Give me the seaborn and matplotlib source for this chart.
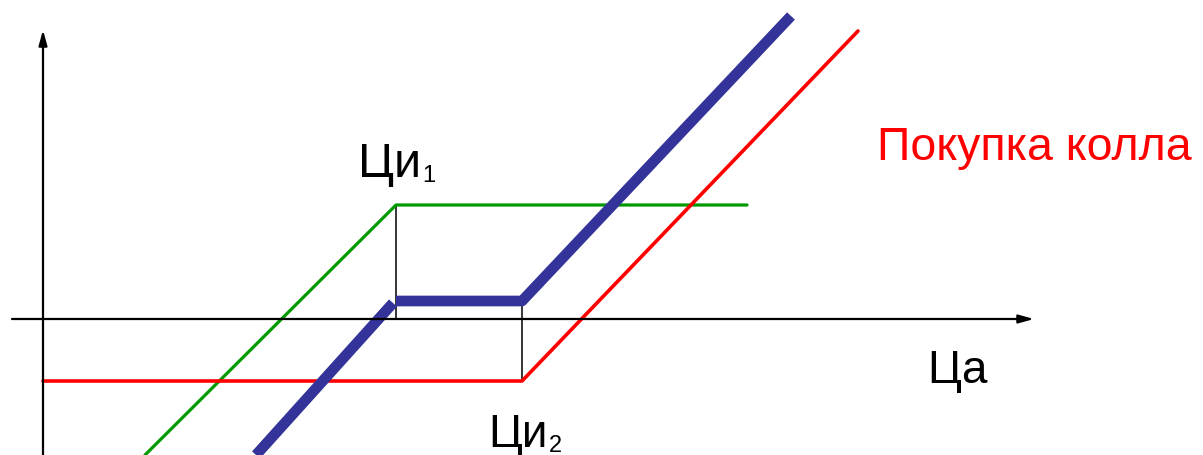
import matplotlib
matplotlib.use("Agg")
import matplotlib.pyplot as plt
import seaborn as sns

# payoff lines, in pixel-like units measured from the axis crossing
green_x = [102, 353, 704]
green_y = [-136, 114, 114]

red_x = [0, 479, 815]
red_y = [-62, -62, 288]

blue_low_x = [213, 350]
blue_low_y = [-136, 16]
blue_up_x = [353, 479, 748]
blue_up_y = [18, 18, 303]

# thin guide lines at the two strikes
guide1_x = [353, 353]
guide1_y = [0, 114]
guide2_x = [479, 479]
guide2_y = [-62, 18]

sns.set_style("white")
plt.rcParams['font.family'] = ['Liberation Sans', 'DejaVu Sans']

fig = plt.figure(figsize=(12.03, 4.55), dpi=100)
ax = fig.add_axes([0, 0, 1, 1])
ax.set_xlim(-43, 1160)
ax.set_ylim(-136, 319)
ax.axis('off')

# axes with arrows
arrow = dict(arrowstyle='-|>,head_length=0.9,head_width=0.25',
             color='black', lw=1.6, shrinkA=0, shrinkB=0)
ax.annotate('', xy=(991, 0), xytext=(-31, 0), arrowprops=arrow)
ax.annotate('', xy=(0, 289), xytext=(0, -140), arrowprops=arrow)

line_kw = dict(ax=ax, sort=False, estimator=None, errorbar=None)
sns.lineplot(x=guide1_x, y=guide1_y, color='black', lw=1.1, **line_kw)
sns.lineplot(x=guide2_x, y=guide2_y, color='black', lw=1.1, **line_kw)

sns.lineplot(x=green_x, y=green_y, color='#009900', lw=2.3, **line_kw)
sns.lineplot(x=red_x, y=red_y, color='#ff0000', lw=2.6, **line_kw)
sns.lineplot(x=blue_low_x, y=blue_low_y, color='#333399', lw=7.7,
             solid_capstyle='butt', **line_kw)
sns.lineplot(x=blue_up_x, y=blue_up_y, color='#333399', lw=7.7,
             solid_capstyle='butt', **line_kw)


def label(x, y, main, sub, size):
    t = ax.text(x, y, main, fontsize=size, color='black',
                ha='left', va='baseline')
    ax.annotate(sub, xy=(1, 0), xycoords=t, xytext=(1, 0),
                textcoords='offset points', fontsize=17, color='black',
                ha='left', va='bottom')


label(315, 142, 'Ци', '1', 35)
label(445, -128, 'Ци', '2', 33)
ax.text(884, -64, 'Ца', fontsize=33, color='black', ha='left', va='baseline')
ax.text(834, 159, 'Покупка колла', fontsize=33.5, color='#ff0000',
        ha='left', va='baseline')

fig.savefig('out.png', dpi=100)
